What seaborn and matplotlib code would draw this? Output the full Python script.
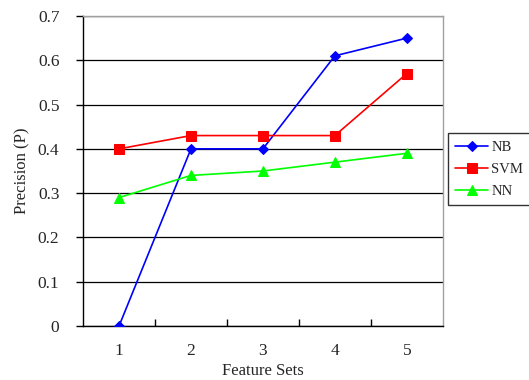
import pandas as pd
import matplotlib
matplotlib.use("Agg")
import matplotlib.pyplot as plt
import seaborn as sns

feature_sets = [1, 2, 3, 4, 5]
nb = [0.0, 0.40, 0.40, 0.61, 0.65]
svm = [0.40, 0.43, 0.43, 0.43, 0.57]
nn = [0.29, 0.34, 0.35, 0.37, 0.39]

df = pd.DataFrame({
    "Feature Sets": feature_sets * 3,
    "Precision": nb + svm + nn,
    "Model": ["NB"] * 5 + ["SVM"] * 5 + ["NN"] * 5,
})

sns.set_style("white")
plt.rcParams["font.family"] = ["Liberation Serif", "DejaVu Serif"]

fig = plt.figure(figsize=(5.29, 3.80), dpi=100)
ax = fig.add_axes([0.157, 0.142, 0.68, 0.816])

palette = {"NB": "#0000ff", "SVM": "#ff0000", "NN": "#00ff00"}
markers = {"NB": "D", "SVM": "s", "NN": "^"}
sizes = {"NB": 5, "SVM": 6.5, "NN": 6.5}

for name in ["NB", "SVM", "NN"]:
    sub = df[df["Model"] == name]
    sns.lineplot(data=sub, x="Feature Sets", y="Precision", ax=ax,
                 color=palette[name], marker=markers[name],
                 markersize=sizes[name], markeredgecolor=palette[name],
                 linewidth=1.2, label=name, zorder=3)

ax.set_xlim(0.5, 5.5)
ax.set_ylim(0, 0.7)
ax.set_yticks([0, 0.1, 0.2, 0.3, 0.4, 0.5, 0.6, 0.7])
ax.set_yticklabels(["0", "0.1", "0.2", "0.3", "0.4", "0.5", "0.6", "0.7"])
ax.set_xticks([1, 2, 3, 4, 5])
ax.set_xticks([1.5, 2.5, 3.5, 4.5], minor=True)
ax.tick_params(axis="x", which="major", length=0, labelsize=12.5, pad=12)
ax.tick_params(axis="x", which="minor", direction="in", length=5, width=1, color="black", bottom=True)
ax.tick_params(axis="y", direction="out", length=5, width=1, color="black", left=True, labelsize=12.5, pad=12)

ax.yaxis.grid(True, color="black", linewidth=0.9)
ax.set_axisbelow(True)

ax.spines["left"].set_color("black")
ax.spines["bottom"].set_color("black")
ax.spines["top"].set_color("#a0a0a0")
ax.spines["right"].set_color("#a0a0a0")
for s in ax.spines.values():
    s.set_linewidth(1)

ax.set_xlabel("Feature Sets", fontsize=12, labelpad=3)
ax.set_ylabel("Precision (P)", fontsize=12, labelpad=5)

leg = ax.legend(loc="center left", bbox_to_anchor=(0.846, 0.555),
                bbox_transform=fig.transFigure, frameon=True, fancybox=False,
                fontsize=10.5, handlelength=2.3, borderpad=0.5, labelspacing=0.6,
                handletextpad=0.2, borderaxespad=0)
leg.get_frame().set_edgecolor("black")
leg.get_frame().set_linewidth(1)

fig.savefig("out.png", dpi=100)
